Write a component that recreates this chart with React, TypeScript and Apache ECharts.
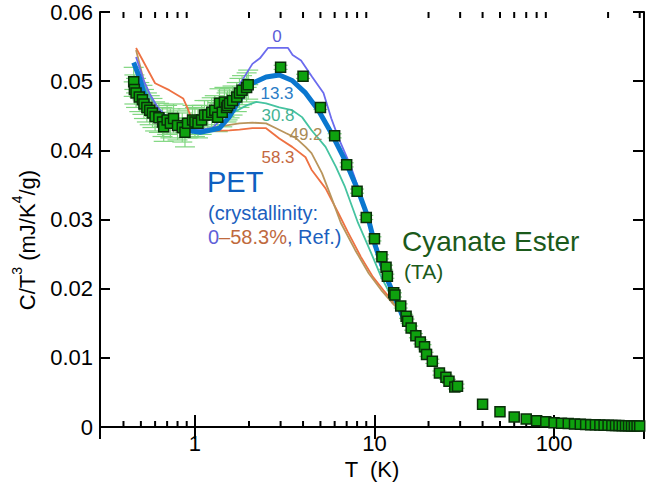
import React, { useEffect, useRef } from 'react';
import * as echarts from 'echarts';

const FONT = '"Liberation Sans", Arial, Helvetica, sans-serif';

// Cyanate Ester (TA) measured points
const ceT = [0.456, 0.46, 0.47, 0.49, 0.51, 0.52, 0.54, 0.56, 0.58, 0.6, 0.63, 0.66, 0.67, 0.7, 0.73, 0.76, 0.8, 0.85, 0.88, 0.91, 0.97, 1.0, 1.04, 1.09, 1.13, 1.18, 1.24, 1.29, 1.34, 1.37, 1.42, 1.46, 1.5, 1.52, 1.56, 1.62, 1.71, 1.77, 1.83, 1.94, 1.98,
  3.0, 4.0, 5.0, 6.0, 7.0, 8.0, 9.0, 10, 11, 11.6, 11.8, 12.8, 13.0, 14, 15, 15.3, 16, 17, 18, 19, 19.5, 21, 23, 25, 26, 28, 29,
  40, 50, 60, 70, 80, 90, 100, 110, 120, 130, 140, 150, 160, 170, 180, 190, 200, 210, 220, 230, 240, 250, 260, 270, 280, 290, 300];
const ceV = [0.0499, 0.0488, 0.0483, 0.0477, 0.0473, 0.0467, 0.0462, 0.0458, 0.0454, 0.0449, 0.0447, 0.0441, 0.0434, 0.0444, 0.0439, 0.0446, 0.0436, 0.0433, 0.0426, 0.0439, 0.0444, 0.0441, 0.0439, 0.0444, 0.0451, 0.0451, 0.0455, 0.0458, 0.0448, 0.0468, 0.0455, 0.047, 0.0462, 0.0465, 0.0468, 0.0472, 0.0477, 0.0483, 0.0487, 0.0491, 0.0495,
  0.052, 0.0507, 0.0462, 0.0421, 0.0379, 0.0341, 0.0303, 0.0272, 0.0246, 0.0231, 0.0218, 0.0194, 0.0191, 0.0175, 0.016, 0.0153, 0.0143, 0.0132, 0.0123, 0.0116, 0.0105, 0.0095, 0.0078, 0.0072, 0.0066, 0.0058, 0.0059,
  0.0033, 0.0022, 0.00145, 0.00115, 0.0009, 0.00075, 0.00062, 0.00055, 0.0005, 0.00045, 0.0004, 0.00037, 0.00034, 0.00031, 0.00029, 0.00027, 0.00025, 0.00023, 0.00022, 0.0002, 0.00019, 0.00018, 0.00017, 0.00016, 0.00015, 0.00014, 0.00013];
const errLowT = 0.0021;
const errMidT = 0.0003;

// PET reference curves (crystallinity %)
const pet0T = [0.47, 0.52, 0.56, 0.62, 0.7, 0.8, 0.9, 1.07, 1.25, 1.4, 1.55, 1.77, 2.09, 2.3, 2.55, 3.3, 3.5, 3.9, 4.5, 5.2, 5.75, 6.3, 7.4, 8.4, 9.5, 10.5, 12, 13.5, 14.5];
const pet0V = [0.0535, 0.05, 0.0482, 0.0462, 0.0448, 0.0437, 0.0432, 0.043, 0.0432, 0.0445, 0.0465, 0.0495, 0.0525, 0.0533, 0.0548, 0.0548, 0.0538, 0.053, 0.0506, 0.0483, 0.0446, 0.0418, 0.0376, 0.0335, 0.029, 0.0255, 0.0212, 0.018, 0.0163];

const pet133T = [0.456, 0.49, 0.52, 0.56, 0.64, 0.76, 0.9, 1.07, 1.37, 1.55, 1.77, 2.09, 2.49, 2.95, 3.48, 4.13, 4.87, 5.75, 6.85, 8.1, 9.2, 10.1, 11.4, 13.0, 14.4];
const pet133V = [0.0527, 0.0506, 0.0483, 0.0462, 0.0447, 0.0436, 0.0429, 0.0426, 0.0432, 0.0448, 0.0473, 0.0497, 0.0506, 0.0509, 0.0501, 0.0483, 0.0458, 0.0425, 0.0386, 0.0342, 0.0303, 0.0262, 0.0222, 0.0188, 0.0159];

const pet308T = [0.47, 0.55, 0.65, 0.8, 1.0, 1.2, 1.37, 1.62, 1.94, 2.2, 2.49, 2.95, 3.48, 3.95, 4.46, 5.34, 6.1, 6.85, 8.1, 9.6, 10.9, 11.9, 13, 14.5];
const pet308V = [0.052, 0.048, 0.0455, 0.0438, 0.043, 0.043, 0.0434, 0.0454, 0.0465, 0.047, 0.0468, 0.0462, 0.0458, 0.0448, 0.0429, 0.0405, 0.0376, 0.0347, 0.0295, 0.0251, 0.0217, 0.0198, 0.018, 0.0163];

const pet492T = [0.47, 0.52, 0.58, 0.68, 0.85, 1.0, 1.26, 1.5, 1.77, 2.09, 2.49, 2.83, 3.2, 3.64, 4.13, 4.46, 5.1, 5.75, 6.5, 7.8, 9.3, 10.9, 12.5, 14.5];
const pet492V = [0.0545, 0.05, 0.047, 0.045, 0.0435, 0.043, 0.0432, 0.0436, 0.0439, 0.044, 0.0439, 0.0432, 0.0425, 0.0418, 0.0405, 0.0396, 0.0367, 0.0332, 0.0295, 0.0256, 0.0222, 0.0198, 0.018, 0.0163];

const pet583T = [0.47, 0.6, 0.72, 0.86, 0.92, 0.97, 1.03, 1.3, 1.56, 1.77, 2.09, 2.49, 2.95, 3.48, 4.13, 4.46, 5.34, 6.3, 7.1, 8.4, 9.8, 11.2, 12.8, 14.5];
const pet583V = [0.0548, 0.0497, 0.0487, 0.0475, 0.0458, 0.0441, 0.0432, 0.0428, 0.0429, 0.043, 0.0432, 0.0432, 0.0417, 0.0405, 0.039, 0.0372, 0.0345, 0.0309, 0.0282, 0.0246, 0.0217, 0.0198, 0.018, 0.0163];

const xMajorLabels = [1, 10, 100];
const xMinorTicks = [0.4, 0.5, 0.6, 0.7, 0.8, 0.9, 2, 3, 4, 5, 6, 7, 8, 9, 20, 30, 40, 50, 60, 70, 80, 90, 200, 300];

const C0 = '#6b6bee';
const C133 = '#0a77cf';
const C308 = '#45c3a0';
const C492 = '#b9955c';
const C583 = '#ee7142';

function zip(t: number[], v: number[]) {
  return t.map((x, i) => [x, v[i]]);
}

export default function App() {
  const ref = useRef<HTMLDivElement>(null);
  useEffect(() => {
    const chart = echarts.init(ref.current!, null, { renderer: 'svg' });
    const grid = { left: 100, top: 12, width: 544, height: 415 };
    const errData = ceT.map((t, i) => [t, ceV[i], t < 2.2 ? errLowT : t < 35 ? errMidT : 0]);
    const lineSeries = (name: string, t: number[], v: number[], color: string, w: number) => ({
      type: 'line', name, data: zip(t, v), showSymbol: false, symbol: 'none', smooth: false,
      lineStyle: { color, width: w }, z: 3,
    });
    const option: any = {
      animation: false,
      backgroundColor: '#ffffff',
      grid,
      xAxis: [
        {
          type: 'log', logBase: 10, min: 0.296, max: 317,
          axisLine: { show: true, lineStyle: { color: '#000', width: 2 } },
          axisTick: { show: true, inside: true, length: 12, lineStyle: { color: '#000', width: 2 } },
          splitLine: { show: false },
          axisLabel: {
            show: true, color: '#000', fontSize: 22, fontFamily: FONT, margin: 5,
            showMinLabel: false, showMaxLabel: false,
            formatter: (val: number) => {
              const r = Math.round(val * 1000) / 1000;
              return xMajorLabels.includes(r) ? String(r) : '';
            },
          },
          name: 'T  (K)', nameLocation: 'middle', nameGap: 29,
          nameTextStyle: { color: '#000', fontSize: 22, fontFamily: FONT },
        },
        {
          type: 'log', logBase: 10, min: 0.296, max: 317, position: 'top',
          axisLine: { show: true, lineStyle: { color: '#000', width: 2 } },
          axisTick: { show: true, inside: true, length: 12, lineStyle: { color: '#000', width: 2 } },
          axisLabel: { show: false }, splitLine: { show: false },
        },
      ],
      yAxis: [
        {
          type: 'value', min: 0, max: 0.06, interval: 0.01,
          axisLine: { show: true, lineStyle: { color: '#000', width: 2 } },
          axisTick: { show: true, inside: true, length: 10, lineStyle: { color: '#000', width: 2 } },
          splitLine: { show: false },
          axisLabel: { color: '#000', fontSize: 22, fontFamily: FONT, margin: 7 },
        },
        {
          type: 'value', min: 0, max: 0.06, interval: 0.01, position: 'right',
          axisLine: { show: true, lineStyle: { color: '#000', width: 2 } },
          axisTick: { show: true, inside: true, length: 11, lineStyle: { color: '#000', width: 2 } },
          axisLabel: { show: false }, splitLine: { show: false },
        },
      ],
      series: [
        {
          type: 'custom', name: 'minorTicks', xAxisIndex: 0, yAxisIndex: 0, z: 1, silent: true,
          data: xMinorTicks.map((t) => [t, 0]),
          renderItem: (params: any, api: any) => {
            const cs = params.coordSys;
            const x = api.coord([api.value(0), 0])[0];
            const bottom = cs.y + cs.height;
            const st = { stroke: '#000', lineWidth: 2 };
            return {
              type: 'group', children: [
                { type: 'line', shape: { x1: x, y1: bottom, x2: x, y2: bottom - 6 }, style: st },
                { type: 'line', shape: { x1: x, y1: cs.y, x2: x, y2: cs.y + 6 }, style: st },
              ],
            };
          },
        },
        {
          type: 'custom', name: 'errors', xAxisIndex: 0, yAxisIndex: 0, z: 2, silent: true,
          data: errData,
          renderItem: (params: any, api: any) => {
            const t = api.value(0), v = api.value(1), e = api.value(2);
            if (!e) return null;
            const p1 = api.coord([t, v + e]);
            const p2 = api.coord([t, v - e]);
            const low = t < 2.2;
            const hw = low ? 10 : 7;
            const st = { stroke: '#7fd67f', lineWidth: 1.2 };
            const children: any[] = [
              { type: 'line', shape: { x1: p1[0] - hw, y1: p1[1], x2: p1[0] + hw, y2: p1[1] }, style: st },
              { type: 'line', shape: { x1: p2[0] - hw, y1: p2[1], x2: p2[0] + hw, y2: p2[1] }, style: st },
            ];
            if (low) {
              children.push({ type: 'line', shape: { x1: p1[0], y1: p1[1], x2: p2[0], y2: p2[1] }, style: st });
              const pc = api.coord([t, v]);
              children.push({ type: 'line', shape: { x1: pc[0] - hw, y1: pc[1], x2: pc[0] + hw, y2: pc[1] }, style: st });
            }
            return { type: 'group', children };
          },
        },
        lineSeries('PET 58.3', pet583T, pet583V, C583, 1.8),
        lineSeries('PET 49.2', pet492T, pet492V, C492, 1.8),
        lineSeries('PET 30.8', pet308T, pet308V, C308, 1.8),
        lineSeries('PET 0', pet0T, pet0V, C0, 1.8),
        lineSeries('PET 13.3', pet133T, pet133V, C133, 5),
        {
          type: 'scatter', name: 'Cyanate Ester (TA)', data: zip(ceT, ceV),
          symbol: 'rect', symbolSize: 10, z: 5,
          itemStyle: { color: '#0ea10e', borderColor: '#0a2e0a', borderWidth: 1.5, opacity: 1 },
        },
      ],
      graphic: [
        {
          type: 'text', x: 24, y: 240, rotation: Math.PI / 2,
          style: {
            text: '{a|C/T}{s|3}{a| (mJ/K}{s|4}{a|/g)}',
            align: 'center', verticalAlign: 'middle', textAlign: 'center', textVerticalAlign: 'middle',
            rich: {
              a: { fontSize: 22, fontFamily: FONT, fill: '#000', color: '#000', lineHeight: 28, verticalAlign: 'bottom' },
              s: { fontSize: 14, fontFamily: FONT, fill: '#000', color: '#000', lineHeight: 28, verticalAlign: 'top' },
            },
          },
        },
        ...[
          { t: '0', x: 277, y: 36, c: '#5c5cd8' },
          { t: '13.3', x: 277, y: 93, c: '#2a7cc6' },
          { t: '30.8', x: 278, y: 115, c: '#44b393' },
          { t: '49.2', x: 306, y: 134, c: '#a98b55' },
          { t: '58.3', x: 278, y: 157, c: '#c4683f' },
        ].map((d) => ({
          type: 'text', x: d.x, y: d.y, z: 10,
          style: {
            text: d.t, fill: d.c, fontSize: 17, fontFamily: FONT,
            align: 'center', verticalAlign: 'middle', textAlign: 'center', textVerticalAlign: 'middle',
          },
        })),
        {
          type: 'text', x: 207, y: 182, z: 10,
          style: { text: 'PET', fill: '#0e5fc0', fontSize: 29, fontFamily: FONT, align: 'left', verticalAlign: 'middle', textAlign: 'left', textVerticalAlign: 'middle' },
        },
        {
          type: 'text', x: 208, y: 213, z: 10,
          style: { text: '(crystallinity:', fill: '#1c5fbe', fontSize: 20, fontFamily: FONT, align: 'left', verticalAlign: 'middle', textAlign: 'left', textVerticalAlign: 'middle' },
        },
        {
          type: 'text', x: 208, y: 237, z: 10,
          style: {
            text: '{p|0}{o|–58.3%}{b|, Ref.)}',
            align: 'left', verticalAlign: 'middle', textAlign: 'left', textVerticalAlign: 'middle',
            rich: {
              p: { fontSize: 20, fontFamily: FONT, fill: '#6060d8', color: '#6060d8' },
              o: { fontSize: 20, fontFamily: FONT, fill: '#c06a3e', color: '#c06a3e' },
              b: { fontSize: 20, fontFamily: FONT, fill: '#1c5fbe', color: '#1c5fbe' },
            },
          },
        },
        {
          type: 'text', x: 402, y: 241, z: 10,
          style: { text: 'Cyanate Ester', fill: '#1b5a1b', fontSize: 28, fontFamily: FONT, align: 'left', verticalAlign: 'middle', textAlign: 'left', textVerticalAlign: 'middle' },
        },
        {
          type: 'text', x: 404, y: 271, z: 10,
          style: { text: '(TA)', fill: '#1b5a1b', fontSize: 21, fontFamily: FONT, align: 'left', verticalAlign: 'middle', textAlign: 'left', textVerticalAlign: 'middle' },
        },
      ],
    };
    chart.setOption(option);
    return () => chart.dispose();
  }, []);
  return (
    <div
      ref={ref}
      style={{ position: 'fixed', left: 0, top: 0, width: 652, height: 486, background: '#ffffff' }}
    />
  );
}
